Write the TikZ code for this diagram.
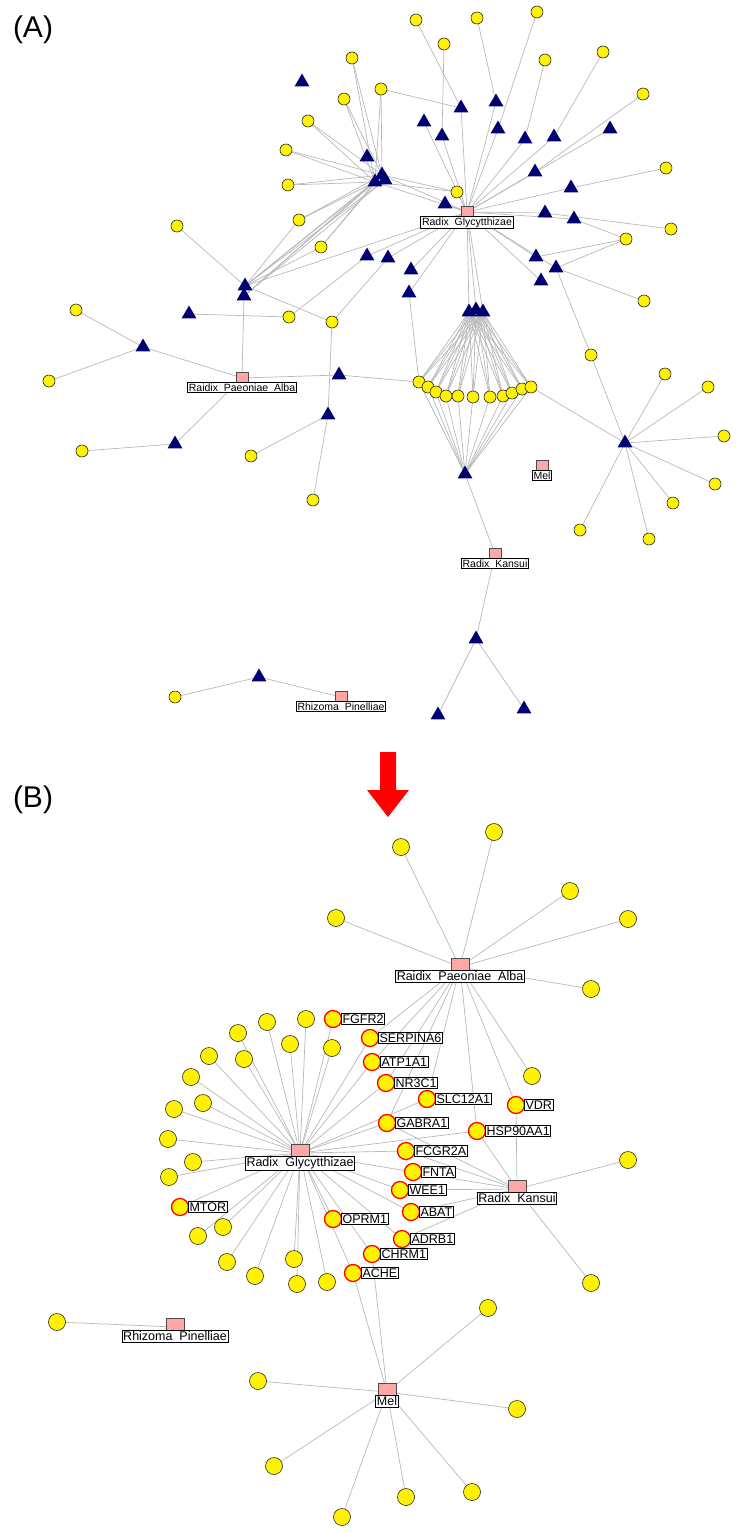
\documentclass[tikz,border=0pt]{standalone}
\usepackage{fontspec}
\setmainfont{Liberation Sans}
\begin{document}
\begin{tikzpicture}[x=1pt,y=-1pt,
 yc/.style={circle,draw=black!85,fill=yellow,inner sep=0pt,minimum size=12pt,line width=0.6pt},
 ycb/.style={yc,minimum size=17pt},
 rc/.style={ycb,draw=red,line width=1.3pt},
 tri/.style={regular polygon,regular polygon sides=3,fill=blue!45!black,inner sep=0pt,minimum size=17pt},
 sq/.style={rectangle,draw=black!70,fill=red!35,inner sep=0pt,minimum size=12pt},
 sqb/.style={sq,minimum size=18pt},
 lab/.style={draw=black,fill=white,inner sep=1.2pt,font=\fontsize{10.5}{11}\selectfont,line width=0.8pt},
 labb/.style={lab,font=\fontsize{12.5}{13}\selectfont},
 ed/.style={draw=black!28,line width=0.7pt}]
\useasboundingbox (0,0) rectangle (738,1534);
\usetikzlibrary{shapes.geometric}
% ---------------- Part A nodes
\foreach \n/\x/\y in {1/416/20,2/477/18,3/537/12,4/444/44,5/545/60,6/603/52,7/352/58,8/381/89,9/344/99,10/643/94,11/308/121,12/286/150,13/288/185,14/666/168,15/457/192,16/177/226,17/299/220,18/671/229,19/626/239,20/321/247,21/644/301,22/289/317,23/332/322,24/76/310,25/49/381,26/82/451,27/251/456,28/313/500,29/591/355,30/665/374,31/708/387,32/724/436,33/715/484,34/673/503,35/649/539,36/580/530,37/175/697}
  \coordinate (c\n) at (\x,\y);
\foreach \n/\x/\y in {1/419/382,2/428/387,3/436/392,4/446/396,5/458/396,6/473/397,7/490/397,8/503/396,9/512/393,10/522/389,11/531/387}
  \coordinate (r\n) at (\x,\y);
\foreach \n/\x/\y in {1/302/82,2/461/108,3/496/102,4/424/122,5/442/136,6/498/129,7/525/139,8/554/137,9/610/129,10/367/157,11/382/175,12/375/182,13/385/180,14/535/172,15/571/188,16/445/204,17/545/213,18/574/219,19/367/256,20/388/258,21/536/257,22/556/268,23/411/270,24/541/281,25/245/286,26/244/296,27/409/293,28/189/314,29/469/312,30/476/310,31/483/312,32/143/347,33/339/375,34/328/415,35/175/444,36/465/474,37/625/443,38/476/639,39/438/715,40/524/709,41/259/677}
  \coordinate (t\n) at (\x,\y);
\coordinate (G) at (467,212); \coordinate (A) at (242,378); \coordinate (M) at (542,466);
\coordinate (K) at (495,554); \coordinate (P) at (341,697);
% edges A
\foreach \t in {2,3,4,5,6,7,8,9,11,12,14,15,16,17,18,19,20,21,22,23,24,25,27,29,30,31} \draw[ed] (G)--(t\t);
\draw[ed] (G)--(c15);
\foreach \a/\b in {t2/c1,t2/c8,t5/c4,t3/c2,t6/c3,t7/c5,t8/c6,t14/c10,t15/c14,t17/c18,t18/c19,t21/c19,t22/c19,t22/c21,t22/c29,t19/c22,t20/c23,t27/r1,t25/c16,t25/c17,t25/c20,t25/c23,t26/A,t28/c22,A/t32,A/t33,A/t35,t32/c24,t32/c25,t35/c26,t34/c27,t34/c28,t34/c23,t33/r1,t36/K,K/t38,t38/t39,t38/t40,P/t41,t41/c37,t37/r11}
  \draw[ed] (\a)--(\b);
\foreach \c in {7,9,11,12,13,17,20,8,15} {\draw[ed] (t11)--(c\c); \draw[ed] (t12)--(c\c);}
\foreach \t in {25,26} {\draw[ed] (t11)--(t\t); \draw[ed] (t13)--(t\t); \draw[ed] (t12)--(t\t);}
\foreach \r in {1,...,11} {\draw[ed] (t29)--(r\r); \draw[ed] (t30)--(r\r); \draw[ed] (t31)--(r\r); \draw[ed] (r\r)--(t36);}
\foreach \c in {29,...,36} \draw[ed] (t37)--(c\c);
% draw A nodes
\foreach \n in {1,...,37} \node[yc] (C\n) at (c\n) {};
\foreach \n in {1,...,11} \node[yc] (R\n) at (r\n) {};
\foreach \n in {1,...,41} \node[tri] (T\n) at (t\n) {};
\node[sq] (nG) at (G) {}; \node[lab,below=4pt] at (nG) {Radix\ \ Glycytthizae};
\node[sq] (nA) at (A) {}; \node[lab,below=4pt] at (nA) {Raidix\ \ Paeoniae\ \ Alba};
\node[sq] (nM) at (M) {}; \node[lab,below=4pt] at (nM) {Mel};
\node[sq] (nK) at (K) {}; \node[lab,below=4pt] at (nK) {Radix\ \ Kansui};
\node[sq] (nP) at (P) {}; \node[lab,below=4pt] at (nP) {Rhizoma\ \ Pinelliae};
% labels (A)(B) and arrow
\node[font=\fontsize{30}{32}\selectfont] (la) at (33,30) {(A)};
\node[font=\fontsize{30}{32}\selectfont] (lb) at (33,800) {(B)};
\fill[red] (380,752)--(396,752)--(396,790)--(409,790)--(388,817)--(367,790)--(380,790)--cycle;
% ---------------- Part B
\coordinate (BP) at (460,967); \coordinate (BG) at (300,1153); \coordinate (BK) at (517,1189);
\coordinate (BM) at (387,1392); \coordinate (BR) at (175,1327);
\foreach \n/\x/\y in {1/267/1022,2/306/1019,3/238/1033,4/290/1044,5/332/1048,6/209/1056,7/244/1059,8/191/1077,9/203/1103,10/174/1109,11/168/1139,12/193/1162,13/169/1177,14/223/1227,15/198/1236,16/227/1262,17/294/1259,18/255/1276,19/297/1284,20/327/1282}
  \coordinate (g\n) at (\x,\y);
\foreach \n/\x/\y in {1/401/847,2/494/832,3/570/891,4/336/918,5/628/919,6/591/989,7/532/1076}
  \coordinate (p\n) at (\x,\y);
\foreach \n/\x/\y in {1/628/1160,2/591/1283} \coordinate (k\n) at (\x,\y);
\foreach \n/\x/\y in {1/488/1308,2/258/1381,3/517/1409,4/274/1466,5/342/1517,6/406/1497,7/472/1492} \coordinate (m\n) at (\x,\y);
\coordinate (rp) at (57,1322);
\foreach \n/\x/\y in {FGFR2/333/1019,SERPINA6/370/1038,ATP1A1/372/1062,NR3C1/386/1083,SLC12A1/427/1099,VDR/516/1105,GABRA1/387/1123,HSP90AA1/477/1131,FCGR2A/406/1151,FNTA/413/1172,WEE1/400/1190,ABAT/411/1212,OPRM1/333/1219,ADRB1/402/1239,CHRM1/372/1254,ACHE/353/1273,MTOR/180/1207}
  \coordinate (\n) at (\x,\y);
% edges B
\foreach \n in {1,...,20} \draw[ed] (BG)--(g\n);
\foreach \n in {FGFR2,SERPINA6,ATP1A1,NR3C1,SLC12A1,GABRA1,HSP90AA1,FCGR2A,FNTA,WEE1,ABAT,OPRM1,ADRB1,CHRM1,ACHE,MTOR} \draw[ed] (BG)--(\n);
\foreach \n in {p1,p2,p3,p4,p5,p6,p7,SERPINA6,ATP1A1,NR3C1,SLC12A1,GABRA1,HSP90AA1,VDR} \draw[ed] (BP)--(\n);
\foreach \n in {k1,k2,VDR,HSP90AA1,FCGR2A,FNTA,WEE1,ABAT,GABRA1,ADRB1} \draw[ed] (BK)--(\n);
\foreach \n in {m1,m2,m3,m4,m5,m6,m7,ACHE,CHRM1} \draw[ed] (BM)--(\n);
\draw[ed] (BR)--(rp);
% draw B nodes
\foreach \n in {1,...,20} \node[ycb] (G\n) at (g\n) {};
\foreach \n in {1,...,7} \node[ycb] (P\n) at (p\n) {};
\foreach \n in {1,2} \node[ycb] (K\n) at (k\n) {};
\foreach \n in {1,...,7} \node[ycb] (M\n) at (m\n) {};
\node[ycb] (RP) at (rp) {};
\foreach \n in {FGFR2,SERPINA6,ATP1A1,NR3C1,SLC12A1,VDR,GABRA1,HSP90AA1,FCGR2A,FNTA,WEE1,ABAT,OPRM1,ADRB1,CHRM1,ACHE,MTOR} {
  \node[rc] (N\n) at (\n) {};
  \node[labb,anchor=west,inner xsep=1pt] at ([xshift=-1pt]N\n.east) {\n};
}
\node[sqb] (nBP) at (BP) {}; \node[labb,below=3pt] at (nBP) {Raidix\ \ Paeoniae\ \ Alba};
\node[sqb] (nBG) at (BG) {}; \node[labb,below=3pt] at (nBG) {Radix\ \ Glycytthizae};
\node[sqb] (nBK) at (BK) {}; \node[labb,below=3pt] at (nBK) {Radix\ \ Kansui};
\node[sqb] (nBM) at (BM) {}; \node[labb,below=3pt] at (nBM) {Mel};
\node[sqb] (nBR) at (BR) {}; \node[labb,below=3pt] at (nBR) {Rhizoma\ \ Pinelliae};
\end{tikzpicture}
\end{document}
